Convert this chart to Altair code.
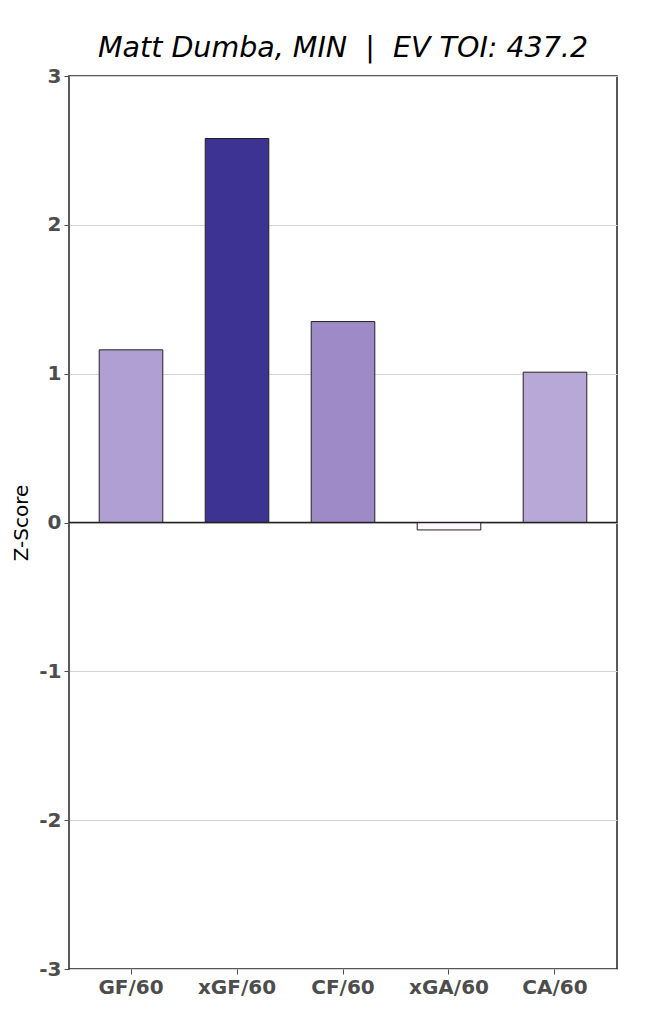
import altair as alt
import pandas as pd

metrics = ["GF/60", "xGF/60", "CF/60", "xGA/60", "CA/60"]
zscores = [1.16, 2.58, 1.35, -0.05, 1.01]
colors = ["#b09fd2", "#3c3393", "#9e8ac6", "#fcf8fb", "#b8a8d8"]
y_ticks = [-3, -2, -1, 0, 1, 2, 3]
title_text = "Matt Dumba, MIN\u00a0\u00a0|\u00a0\u00a0EV TOI: 437.2"

df = pd.DataFrame({"metric": metrics, "z": zscores, "color": colors})

bars = alt.Chart(df).mark_bar(
    width=alt.RelativeBandSize(0.6), stroke="#222222", strokeWidth=1
).encode(
    x=alt.X("metric:N", sort=metrics, title=None,
            scale=alt.Scale(paddingInner=0, paddingOuter=0.085),
            axis=alt.Axis(labelAngle=0, labelFont="DejaVu Sans", labelFontSize=20,
                          labelFontWeight="bold", labelColor="#4d4d4d",
                          tickColor="#4d4d4d", tickSize=5, domain=False, labelPadding=3)),
    y=alt.Y("z:Q", scale=alt.Scale(domain=[-3, 3], nice=False),
            title="Z-Score",
            axis=alt.Axis(values=y_ticks, labelExpr="replace(format(datum.value, 'd'), '\u2212', '-')",
                          labelFont="DejaVu Sans",
                          labelFontSize=20, labelFontWeight="bold", labelColor="#4d4d4d",
                          tickColor="#4d4d4d", tickSize=5, domain=False,
                          grid=True, gridColor="#d3d3d3", gridWidth=1,
                          titleFont="DejaVu Sans", titleFontSize=20,
                          titleFontWeight="normal", titleColor="#000000",
                          titlePadding=7, labelPadding=3)),
    color=alt.Color("color:N", scale=None),
)

zero = alt.Chart(pd.DataFrame({"y": [0]})).mark_rule(color="#222222", strokeWidth=1.5).encode(
    y="y:Q"
)

chart = alt.layer(bars, zero).properties(
    width=548, height=893,
    title=alt.TitleParams(title_text, font="DejaVu Sans", fontSize=28.5,
                          fontStyle="italic", fontWeight="normal", color="#000000",
                          anchor="middle", offset=4),
    padding={"left": 61, "top": 68, "right": 40, "bottom": 40},
    autosize=alt.AutoSizeParams(type="none"),
).configure_view(stroke="#222222", strokeWidth=1.5)

chart.save("out.html", embed_options={"renderer": "svg", "actions": False})
